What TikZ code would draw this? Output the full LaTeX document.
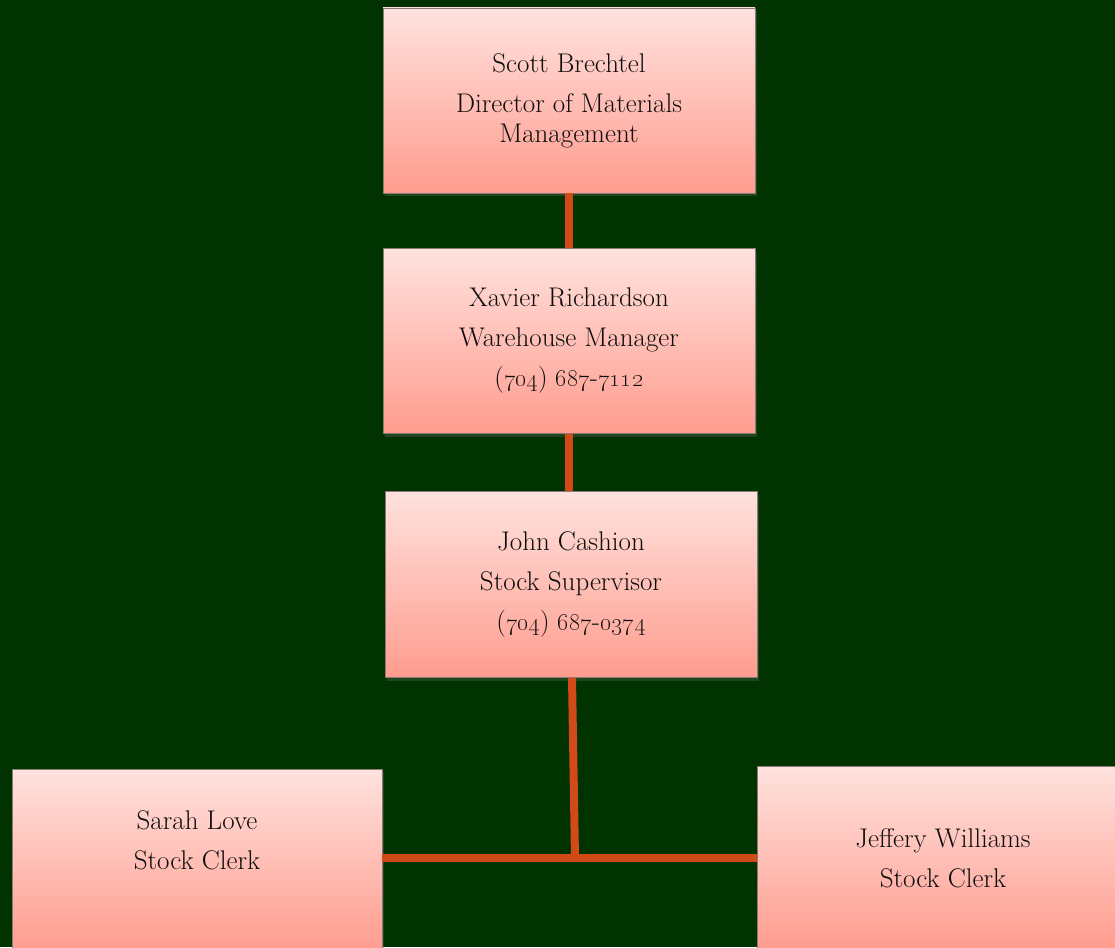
\documentclass[tikz,border=0pt]{standalone}
\usetikzlibrary{shadows}
\definecolor{bggreen}{HTML}{003300}
\definecolor{boxtop}{HTML}{FFE2DE}
\definecolor{boxbot}{HTML}{FF9C8E}
\definecolor{boxline}{HTML}{8A7A76}
\definecolor{linkcol}{HTML}{D24A17}
\definecolor{txt}{HTML}{0D0D0D}
\tikzset{
  orgbox/.style={rectangle, draw=boxline, line width=0.8pt, top color=boxtop, bottom color=boxbot,
    inner sep=0pt, align=center, text=txt,
    font=\fontsize{27}{40}\selectfont,
    drop shadow={opacity=0.25, shadow xshift=2pt, shadow yshift=-3pt}},
  link/.style={draw=linkcol, line width=8pt}
}
\begin{document}
\begin{tikzpicture}[x=1pt,y=-1pt]
\fill[bggreen] (0,0) rectangle (1115,947);
\useasboundingbox (0,0) rectangle (1115,947);
\clip (0,0) rectangle (1115,947);
\coordinate (j) at (575,858);
\node[orgbox, minimum width=372pt, minimum height=185pt] (b1) at (569,100.5)
  {Scott Brechtel\\Director of Materials\\[-10pt]Management};
\node[orgbox, minimum width=372pt, minimum height=185pt] (b2) at (569,341)
  {Xavier Richardson\\Warehouse Manager\\(\oldstylenums{704}) \oldstylenums{687}-\oldstylenums{7112}};
\node[orgbox, minimum width=372pt, minimum height=186pt] (b3) at (571,584.5)
  {John Cashion\\Stock Supervisor\\(\oldstylenums{704}) \oldstylenums{687}-\oldstylenums{0374}};
\node[orgbox, minimum width=370pt, minimum height=182pt] (b4) at (197,860)
  {Sarah Love\\Stock Clerk\\\mbox{}};
\node[orgbox, minimum width=372pt, minimum height=184pt] (b5) at (943,858)
  {Jeffery Williams\\Stock Clerk};
\draw[link] (b1.south) -- (b2.north);
\draw[link] (b2.south) -- (b2.south |- b3.north);
\draw[link] ([xshift=1pt]b3.south) -- (j);
\draw[link] (b4.east |- j) -- (b5.west |- j);
\end{tikzpicture}
\end{document}
